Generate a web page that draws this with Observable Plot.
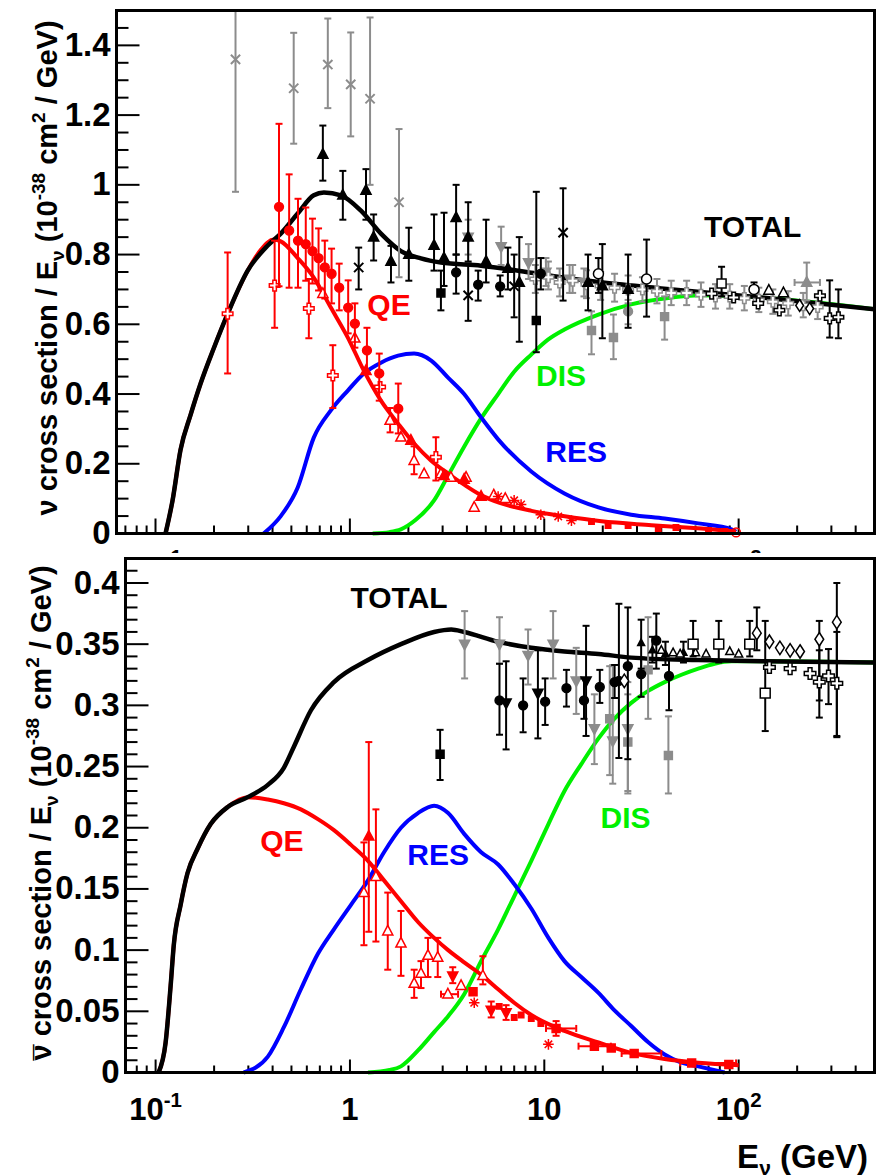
<!DOCTYPE html>
<html>
<head>
<meta charset="utf-8">
<script src="https://cdn.jsdelivr.net/npm/d3@7"></script>
<script src="https://cdn.jsdelivr.net/npm/@observablehq/plot@0.6"></script>
<style>
  html, body { margin: 0; padding: 0; background: #fff; }
  #wrap { position: relative; width: 884px; height: 1175px; overflow: hidden; background: #fff; }
  #top, #bot { position: absolute; left: 0; }
  #top { top: 0; }
  #bot { top: 553px; }
  svg { display: block; }
</style>
</head>
<body>
<div id="wrap"><div id="top"></div><div id="bot"></div></div>
<script>
// ---------------- DATA (E in GeV, value in 1e-38 cm^2/GeV) ----------------
// Top panel (neutrino) model curves [E, sigma/E]
const topTotal = [[0.1126,0],[0.1224,0.095],[0.1345,0.24],[0.1515,0.34],[0.1706,0.43],[0.199,0.53],[0.235,0.63],[0.298,0.754],[0.378,0.826],[0.441,0.86],[0.539,0.918],[0.652,0.97],[0.735,0.978],[0.899,0.97],[1.14,0.926],[1.445,0.86],[1.83,0.81],[2.32,0.789],[2.94,0.777],[4.73,0.768],[8.57,0.748],[12.2,0.735],[20,0.72],[40,0.703],[131,0.677],[500,0.643]];
const topQE = [[0.1126,0],[0.1224,0.095],[0.1345,0.24],[0.1515,0.34],[0.1706,0.43],[0.199,0.53],[0.235,0.63],[0.298,0.754],[0.35,0.815],[0.406,0.843],[0.441,0.838],[0.539,0.79],[0.652,0.734],[0.798,0.648],[0.976,0.562],[1.18,0.467],[1.445,0.381],[1.77,0.315],[2.14,0.258],[2.62,0.209],[3.2,0.172],[3.87,0.14],[4.73,0.11],[5.9,0.088],[8.6,0.065],[12.5,0.05],[19.7,0.035],[35.6,0.024],[64.5,0.014],[97,0.006]];
const topRES = [[0.36,0],[0.441,0.05],[0.539,0.132],[0.652,0.275],[0.798,0.353],[0.976,0.41],[1.18,0.459],[1.445,0.49],[1.77,0.51],[2.14,0.516],[2.62,0.496],[3.2,0.447],[3.87,0.40],[4.73,0.333],[5.79,0.27],[8.57,0.178],[12.7,0.115],[19,0.075],[28,0.054],[41.6,0.043],[62,0.029],[92,0.012],[97,0.005]];
const topDIS = [[1.31,0],[1.6,0.004],[1.83,0.012],[2.19,0.04],[2.71,0.095],[3.2,0.166],[3.87,0.249],[4.73,0.33],[5.79,0.40],[7.0,0.464],[8.57,0.513],[10.45,0.556],[12.7,0.585],[19,0.628],[28,0.657],[41.6,0.674],[64.5,0.683],[131,0.676],[500,0.643]];

// Top panel measurements [E, value, errLow, errHigh, (Elow, Ehigh)]
const topGrayX = [[0.258,1.36,0.98,1.5],[0.514,1.277,1.118,1.436],[0.77,1.345,1.22,1.477],[1.01,1.288,1.139,1.437],[1.27,1.247,1.0,1.48],[1.79,0.95,0.735,1.16]];
const topGrayTriDown = [[4.06,0.85,0.80,0.90],[6.0,0.823,0.77,0.88],[8.3,0.777,0.73,0.83],[10.2,0.75,0.71,0.79],[13.5,0.73,0.69,0.77],[16,0.72,0.68,0.76]];
const topGraySquare = [[17.5,0.582,0.514,0.637],[22.7,0.562,0.5,0.628],[41.6,0.622,0.556,0.68]];
const topGrayCircle = [[27,0.637,0.6,0.67]];
const topGrayOpenCross = [[9.0,0.73,0.69,0.77],[10.5,0.735,0.70,0.78],[12,0.72,0.68,0.76],[14,0.725,0.69,0.77],[16.5,0.715,0.675,0.755],[19.5,0.71,0.67,0.75],[23,0.705,0.665,0.745],[27,0.70,0.66,0.74],[32,0.70,0.665,0.735],[38,0.695,0.66,0.73],[45,0.69,0.655,0.725],[54,0.69,0.655,0.725],[64,0.685,0.65,0.72],[76,0.68,0.645,0.715],[90,0.68,0.645,0.715],[107,0.675,0.64,0.71],[127,0.67,0.635,0.705],[150,0.665,0.63,0.70],[180,0.66,0.625,0.695],[215,0.655,0.62,0.69],[255,0.65,0.615,0.685]];
const topGrayTriHerr = [[224,0.72,0.668,0.777,194,262]];
const topBlackTri = [[0.726,1.087,1.012,1.17],[0.92,0.97,0.9,1.04],[1.21,0.984,0.9,1.045],[1.325,0.85,0.783,0.915],[1.627,0.78,0.72,0.825],[2.01,0.80,0.725,0.877],[2.71,0.826,0.754,0.915],[3.05,0.79,0.71,0.92],[3.52,0.906,0.80,1.0],[4.06,0.85,0.78,0.95],[5.02,0.78,0.72,0.90],[6.5,0.76,0.70,0.82],[7.44,0.72,0.55,0.85],[16.8,0.72,0.64,0.80],[19.9,0.71,0.56,0.83],[27,0.70,0.59,0.80]];
const topBlackX = [[1.11,0.763,0.70,0.82],[4.06,0.683,0.61,0.774],[7.0,0.709,0.62,0.80],[12.5,0.863,0.668,0.99]];
const topBlackCircle = [[3.52,0.749,0.688,0.80],[4.57,0.714,0.668,0.754],[5.93,0.709,0.68,0.74],[9.6,0.745,0.70,0.79]];
const topBlackSquare = [[2.94,0.69,0.64,0.754],[9.1,0.611,0.52,0.98]];
const topOpenCircle = [[19,0.745,0.69,0.79],[33.6,0.73,0.622,0.843],[120,0.70,0.68,0.72]];
const topOpenSquare = [[81.7,0.717,0.68,0.765]];
const topOpenCross = [[72.6,0.688],[94.3,0.677],[126,0.66],[162,0.64],[262,0.682],[294,0.617,0.562,0.726],[326,0.62,0.56,0.70]];
const topOpenDiamond = [[206,0.654],[232,0.645]];
const topOpenTri = [[143,0.697],[170,0.69]];
const topRedCircle = [[0.432,0.937,0.709,1.175],[0.487,0.869,0.705,1.03],[0.541,0.84,0.705,0.96],[0.593,0.83,0.725,0.935],[0.642,0.81,0.717,0.903],[0.69,0.79,0.697,0.875],[0.743,0.763,0.674,0.84],[0.805,0.745,0.66,0.817],[0.881,0.705,0.64,0.774],[0.98,0.648,0.574,0.726],[1.061,0.602,0.533,0.66],[1.224,0.525,0.459,0.59],[1.416,0.459,0.381,0.516],[1.774,0.358,0.287,0.43]];
const topRedOpenCross = [[0.235,0.63,0.459,0.806],[0.41,0.711,0.59,0.84],[0.615,0.645,0.56,0.73],[0.817,0.453,0.36,0.54],[1.43,0.42],[2.77,0.219,0.152,0.276]];
const topRedOpenTri = [[0.726,0.688],[1.06,0.56],[1.61,0.324,0.29,0.36],[1.83,0.276],[2.14,0.209,0.17,0.25],[2.41,0.171],[2.94,0.171],[3.31,0.161],[3.96,0.161],[4.36,0.075],[5.5,0.11],[6.3,0.1]];
const topRedFilledTri = [[1.21,0.467],[2.06,0.267],[3.05,0.166],[3.87,0.155],[4.73,0.106]];
const topRedStar = [[5.79,0.106],[7.0,0.095],[7.6,0.083],[9.6,0.054],[11.8,0.049],[13.8,0.037]];
const topRedSmall = [[17.5,0.034],[21.3,0.023],[27,0.023],[38.6,0.012],[47.6,0.017],[70,0.009],[85,0.006]];
const topRedOpenCircle = [[97,0.003]];

// Bottom panel (antineutrino) model curves
const botTotal = [[0.1036,0],[0.1126,0.0245],[0.1195,0.071],[0.124,0.104],[0.1345,0.137],[0.146,0.163],[0.1646,0.183],[0.192,0.203],[0.235,0.217],[0.298,0.225],[0.378,0.235],[0.457,0.249],[0.514,0.266],[0.63,0.296],[0.827,0.319],[1.238,0.337],[1.83,0.35],[2.71,0.36],[3.32,0.362],[3.87,0.36],[5.79,0.352],[8.57,0.347],[12.7,0.344],[19,0.342],[28,0.339],[62,0.337],[136,0.336],[500,0.335]];
const botQE = [[0.1036,0],[0.1126,0.0245],[0.1195,0.071],[0.124,0.104],[0.1345,0.137],[0.146,0.163],[0.1646,0.183],[0.192,0.203],[0.235,0.217],[0.298,0.225],[0.378,0.223],[0.457,0.22],[0.559,0.215],[0.684,0.207],[0.827,0.198],[1.012,0.186],[1.238,0.173],[1.497,0.157],[1.83,0.14],[2.24,0.123],[2.71,0.11],[3.2,0.1],[3.87,0.09],[4.73,0.08],[5.79,0.068],[7.0,0.057],[8.57,0.047],[12.7,0.034],[19,0.0245],[28,0.016],[41.6,0.011],[62,0.008],[100,0.006]];
const botRES = [[0.284,0],[0.378,0.013],[0.457,0.037],[0.559,0.068],[0.684,0.097],[0.827,0.117],[1.012,0.137],[1.238,0.157],[1.497,0.18],[1.83,0.2],[2.24,0.212],[2.71,0.218],[3.2,0.212],[3.87,0.195],[4.73,0.18],[5.79,0.17],[7.0,0.154],[8.57,0.134],[10.5,0.11],[12.7,0.091],[15.5,0.078],[19,0.065],[22.9,0.051],[28,0.038],[34.4,0.0245],[41.6,0.0147],[50.8,0.008],[62,0.005],[84.7,0]];
const botDIS = [[1.238,0],[1.6,0.002],[1.83,0.005],[2.24,0.018],[2.71,0.033],[3.2,0.046],[3.87,0.064],[4.73,0.091],[5.79,0.117],[7.0,0.144],[8.57,0.173],[10.5,0.203],[12.7,0.23],[15.5,0.252],[19,0.273],[22.9,0.289],[28,0.302],[34.4,0.312],[41.6,0.319],[50.8,0.325],[62,0.33],[75.2,0.334],[92,0.336],[136,0.336],[500,0.335]];

// Bottom panel measurements
const botBlackSquare = [[2.91,0.26,0.239,0.28]];
const botGrayTriDown = [[3.89,0.35,0.322,0.377],[5.88,0.35,0.334,0.372],[8.25,0.341,0.317,0.362],[11.1,0.35,0.322,0.377],[14.6,0.32,0.293,0.347],[18.1,0.281,0.252,0.309],[22.5,0.271,0.236,0.333],[26.9,0.281,0.23,0.319]];
const botGraySquare = [[21.7,0.289,0.243,0.332],[26.9,0.27,0.228,0.309],[34.2,0.329,0.289,0.372],[43.5,0.259,0.228,0.291]];
const botBlackCircle = [[5.88,0.304,0.276,0.334],[7.78,0.30,0.278,0.322],[10.1,0.303,0.284,0.322],[13,0.314,0.299,0.329],[16,0.304,0.289,0.322],[19.3,0.315,0.302,0.329],[23,0.319,0.306,0.333],[24.2,0.32,0.257,0.383],[26.9,0.332,0.256,0.38],[31.5,0.3255,0.307,0.339],[37.7,0.353,0.33,0.375],[43.8,0.324,0.296,0.3375]];
const botBlackTriDown = [[6.36,0.302,0.264,0.336],[9.27,0.31,0.273,0.345],[16.4,0.32,0.275,0.365]];
const botBlackTri = [[31.5,0.351,0.33,0.37],[36,0.345,0.335,0.356],[42,0.342,0.333,0.352],[52,0.343,0.335,0.352]];
const botOpenSquare = [[58.3,0.35,0.34,0.369],[79,0.35,0.335,0.369],[114,0.35,0.34,0.369],[137,0.31,0.279,0.369]];
const botOpenDiamond = [[25.8,0.32],[124,0.359,0.345,0.38],[144,0.352],[163,0.347],[184,0.345],[207,0.344],[260,0.354,0.304,0.369],[320,0.368,0.274,0.40]];
const botOpenCross = [[144,0.331],[184,0.33],[233,0.326],[260,0.319,0.29,0.345],[290,0.324,0.301,0.346],[320,0.318,0.275,0.36]];
const botOpenTri = [[40,0.345],[46,0.343],[50,0.342],[60,0.343],[68,0.342],[90,0.344],[100,0.342]];
const botRedOpenTri = [[1.18,0.147,0.104,0.188],[1.36,0.16,0.107,0.215],[1.565,0.1155,0.084,0.147],[1.83,0.1056,0.079,0.132],[2.14,0.0727,0.061,0.084],[2.32,0.081,0.069,0.091],[2.52,0.0956,0.078,0.11],[2.83,0.094,0.078,0.11],[3.73,0.071],[4.83,0.079,0.072,0.095],[3.19,0.064,null,null,2.94,3.6]];
const botRedFilledTri = [[1.25,0.193,0.115,0.27]];
const botRedTriDown = [[3.38,0.079,0.073,0.086],[5.33,0.051,0.045,0.058],[6.36,0.049,0.043,0.055]];
const botRedSquare = [[4.3,0.066],[11.5,0.036,0.03,0.042,10.2,14.6],[18.1,0.0215,null,null,15,22],[22.1,0.02],[29,0.0155,null,null,25,40],[57.3,0.0078,null,null,50,97],[89,0.0065]];
const botRedStar = [[4.36,0.057],[10.5,0.023]];
const botRedSmall = [[5.86,0.054],[7.0,0.045],[7.6,0.047],[8.57,0.044],[9.6,0.04]];

// Ticks and labels
const xMajor = [0.1, 1, 10, 100];
const xMinor = [0.07,0.08,0.09,0.2,0.3,0.4,0.5,0.6,0.7,0.8,0.9,2,3,4,5,6,7,8,9,20,30,40,50,60,70,80,90,200,300,400];
const xTickText = ["10^-1", "1", "10", "10^2"];
const topYMajor = [0,0.2,0.4,0.6,0.8,1,1.2,1.4];
const topYMinor = [0.05,0.1,0.15,0.25,0.3,0.35,0.45,0.5,0.55,0.65,0.7,0.75,0.85,0.9,0.95,1.05,1.1,1.15,1.25,1.3,1.35,1.45];
const botYMajor = [0,0.05,0.1,0.15,0.2,0.25,0.3,0.35,0.4];
const botYMinor = [0.01,0.02,0.03,0.04,0.06,0.07,0.08,0.09,0.11,0.12,0.13,0.14,0.16,0.17,0.18,0.19,0.21,0.22,0.23,0.24,0.26,0.27,0.28,0.29,0.31,0.32,0.33,0.34,0.36,0.37,0.38,0.39,0.41];
const topLabels = [[118,0.877,"TOTAL"],[1.59,0.654,"QE"],[12.2,0.45,"DIS"],[14.6,0.232,"RES"]];
const botLabels = [[1.79,0.387,"TOTAL"],[0.446,0.189,"QE"],[2.84,0.177,"RES"],[26.2,0.208,"DIS"]];

// ---------------- STYLE ----------------
const FONT = '"Liberation Sans", Arial, Helvetica, sans-serif';
const GRAY = "#8c8c8c", RED = "#ff0000", BLUE = "#0000ff", GREEN = "#00f000";
const LABEL_COLOR = {TOTAL: "black", QE: RED, DIS: GREEN, RES: BLUE};

const sym = fn => ({draw(c, size) { fn(c, Math.sqrt(size / Math.PI)); }});
const S = {
  circle: sym((c, r) => { c.moveTo(r, 0); c.arc(0, 0, r, 0, 2 * Math.PI); c.closePath(); }),
  square: sym((c, r) => { const s = r * 0.9; c.moveTo(-s, -s); c.lineTo(s, -s); c.lineTo(s, s); c.lineTo(-s, s); c.closePath(); }),
  triUp: sym((c, r) => { const s = r * 1.15; c.moveTo(0, -s * 1.15); c.lineTo(s, s * 0.75); c.lineTo(-s, s * 0.75); c.closePath(); }),
  triDown: sym((c, r) => { const s = r * 1.15; c.moveTo(0, s * 1.15); c.lineTo(s, -s * 0.75); c.lineTo(-s, -s * 0.75); c.closePath(); }),
  diamond: sym((c, r) => { const s = r * 1.35; c.moveTo(0, -s); c.lineTo(s * 0.65, 0); c.lineTo(0, s); c.lineTo(-s * 0.65, 0); c.closePath(); }),
  cross: sym((c, r) => { const a = r * 1.2, b = r * 0.4; c.moveTo(-b, -a); c.lineTo(b, -a); c.lineTo(b, -b); c.lineTo(a, -b); c.lineTo(a, b); c.lineTo(b, b); c.lineTo(b, a); c.lineTo(-b, a); c.lineTo(-b, b); c.lineTo(-a, b); c.lineTo(-a, -b); c.lineTo(-b, -b); c.closePath(); }),
  times: sym((c, r) => { const s = r * 1.05; c.moveTo(-s, -s); c.lineTo(s, s); c.moveTo(s, -s); c.lineTo(-s, s); }),
  star: sym((c, r) => { const s = r * 1.2; for (let k = 0; k < 4; k++) { const a = k * Math.PI / 4; c.moveTo(-s * Math.cos(a), -s * Math.sin(a)); c.lineTo(s * Math.cos(a), s * Math.sin(a)); } })
};
const capH = {draw(c) { c.moveTo(-3.5, 0); c.lineTo(3.5, 0); }};
const capV = {draw(c) { c.moveTo(0, -3.5); c.lineTo(0, 3.5); }};
const tickRight = L => ({draw(c) { c.moveTo(0, 0); c.lineTo(L, 0); }});
const tickUp = L => ({draw(c) { c.moveTo(0, 0); c.lineTo(0, -L); }});

function pointMarks({data, symbol, color, fill, r = 4.4, sw = 1.5}) {
  const v = data.filter(d => d.length > 3 && d[2] != null);
  const h = data.filter(d => d.length > 5);
  const X = d => d[0], Y = d => d[1];
  return [
    Plot.ruleY(h, {y: Y, x1: d => d[4], x2: d => d[5], stroke: color, strokeWidth: 2}),
    Plot.dot(h, {x: d => d[4], y: Y, symbol: capV, stroke: color, strokeWidth: 2}),
    Plot.dot(h, {x: d => d[5], y: Y, symbol: capV, stroke: color, strokeWidth: 2}),
    Plot.ruleX(v, {x: X, y1: d => d[2], y2: d => d[3], stroke: color, strokeWidth: 2}),
    Plot.dot(v, {x: X, y: d => d[2], symbol: capH, stroke: color, strokeWidth: 2}),
    Plot.dot(v, {x: X, y: d => d[3], symbol: capH, stroke: color, strokeWidth: 2}),
    Plot.dot(data, {x: X, y: Y, symbol, r, fill: fill ?? color, stroke: color, strokeWidth: sw})
  ];
}
const curve = (data, color, w = 4) => Plot.line(data, {x: d => d[0], y: d => d[1], stroke: color, strokeWidth: w, curve: "monotone-x", strokeLinejoin: "round", strokeLinecap: "butt"});

function axisMarks({yMajor, yMinor, yFmt, xLabelDy, xMajLen, xMinLen, xFont}) {
  return [
    Plot.dot(yMajor, {y: d => d, frameAnchor: "left", symbol: tickRight(23), stroke: "black", strokeWidth: 2}),
    Plot.dot(yMinor, {y: d => d, frameAnchor: "left", symbol: tickRight(12), stroke: "black", strokeWidth: 2}),
    Plot.dot(xMajor, {x: d => d, frameAnchor: "bottom", symbol: tickUp(xMajLen), stroke: "black", strokeWidth: 2}),
    Plot.dot(xMinor, {x: d => d, frameAnchor: "bottom", symbol: tickUp(xMinLen), stroke: "black", strokeWidth: 2}),
    Plot.text(yMajor, {y: d => d, frameAnchor: "left", textAnchor: "end", lineAnchor: "middle", dx: -6, text: yFmt, fontSize: 33, fontWeight: "bold", fill: "black"}),
    Plot.text(xMajor, {x: d => d, frameAnchor: "bottom", lineAnchor: "top", dy: xLabelDy, text: (d, i) => xTickText[i], fontSize: xFont, fontWeight: "bold", fill: "black"})
  ];
}
const labelMarks = labels => labels.map(l => Plot.text([l], {x: d => d[0], y: d => d[1], text: d => d[2], fill: LABEL_COLOR[l[2]], fontSize: 30, fontWeight: "bold", textAnchor: "middle", lineAnchor: "middle"}));

function superscripts(svg, fontSize) {
  d3.select(svg).selectAll("text").each(function () {
    const m = /^10\^(.+)$/.exec(this.textContent);
    if (!m) return;
    const el = d3.select(this);
    el.text("");
    el.append("tspan").text("10");
    el.append("tspan").attr("dy", -0.42 * fontSize).attr("font-size", 0.66 * fontSize).text(m[1]);
  });
}
function yTitle(svg, x, y, bar) {
  const t = d3.select(svg).append("text")
    .attr("transform", `translate(${x},${y}) rotate(-90)`)
    .attr("text-anchor", "middle").attr("font-family", FONT).attr("font-weight", "bold")
    .attr("font-size", 29).attr("fill", "black");
  if (bar) {
    t.append("tspan").attr("dy", 4).text("\u00AF");
    t.append("tspan").attr("dx", -16).attr("dy", -4).text("\u03BD");
  } else {
    t.append("tspan").text("\u03BD");
  }
  t.append("tspan").text(" cross section / E");
  t.append("tspan").attr("dy", 7).attr("font-size", 19).text("\u03BD");
  t.append("tspan").attr("dy", -7).text(" (10");
  t.append("tspan").attr("dy", -12).attr("font-size", 19).text("-38");
  t.append("tspan").attr("dy", 12).text(" cm");
  t.append("tspan").attr("dy", -12).attr("font-size", 19).text("2");
  t.append("tspan").attr("dy", 12).text(" / GeV)");
}

const fmtY = d => String(+d.toFixed(2));

// ---------------- TOP PANEL ----------------
const topSeries = [
  {data: topGrayX, symbol: S.times, color: GRAY, fill: "none", sw: 2},
  {data: topGrayTriDown, symbol: S.triDown, color: GRAY},
  {data: topGraySquare, symbol: S.square, color: GRAY},
  {data: topGrayCircle, symbol: S.circle, color: GRAY},
  {data: topGrayOpenCross, symbol: S.cross, color: GRAY, fill: "white"},
  {data: topGrayTriHerr, symbol: S.triUp, color: GRAY},
  {data: topBlackTri, symbol: S.triUp, color: "black"},
  {data: topBlackX, symbol: S.times, color: "black", fill: "none", sw: 2},
  {data: topBlackCircle, symbol: S.circle, color: "black"},
  {data: topBlackSquare, symbol: S.square, color: "black"},
  {data: topOpenCircle, symbol: S.circle, color: "black", fill: "white", r: 5},
  {data: topOpenSquare, symbol: S.square, color: "black", fill: "white", r: 5},
  {data: topOpenCross, symbol: S.cross, color: "black", fill: "white"},
  {data: topOpenDiamond, symbol: S.diamond, color: "black", fill: "white"},
  {data: topOpenTri, symbol: S.triUp, color: "black", fill: "white"},
  {data: topRedOpenTri, symbol: S.triUp, color: RED, fill: "white"},
  {data: topRedOpenCross, symbol: S.cross, color: RED, fill: "white"},
  {data: topRedCircle, symbol: S.circle, color: RED},
  {data: topRedFilledTri, symbol: S.triUp, color: RED},
  {data: topRedStar, symbol: S.star, color: RED, fill: "none"},
  {data: topRedSmall, symbol: S.square, color: RED, r: 3},
  {data: topRedOpenCircle, symbol: S.circle, color: RED, fill: "none"}
];
const topPlot = Plot.plot({
  width: 884, height: 560,
  marginTop: 10, marginBottom: 27, marginLeft: 116, marginRight: 10,
  x: {type: "log", domain: [0.063, 500], axis: null},
  y: {domain: [0, 1.5], axis: null},
  style: {fontFamily: FONT, background: "white"},
  marks: [
    ...axisMarks({yMajor: topYMajor, yMinor: topYMinor, yFmt: fmtY, xLabelDy: 21, xMajLen: 15, xMinLen: 8, xFont: 31}),
    curve(topDIS, GREEN), curve(topRES, BLUE), curve(topQE, RED), curve(topTotal, "black", 4.5),
    ...topSeries.flatMap(pointMarks),
    ...labelMarks(topLabels),
    Plot.frame({stroke: "black", strokeWidth: 3})
  ]
});
superscripts(topPlot, 31);
yTitle(topPlot, 57, 268, false);
document.getElementById("top").appendChild(topPlot);

// ---------------- BOTTOM PANEL ----------------
const botSeries = [
  {data: botGrayTriDown, symbol: S.triDown, color: GRAY},
  {data: botGraySquare, symbol: S.square, color: GRAY},
  {data: botBlackSquare, symbol: S.square, color: "black"},
  {data: botBlackCircle, symbol: S.circle, color: "black"},
  {data: botBlackTriDown, symbol: S.triDown, color: "black"},
  {data: botBlackTri, symbol: S.triUp, color: "black", r: 3},
  {data: botOpenTri, symbol: S.triUp, color: "black", fill: "white", r: 3.5},
  {data: botOpenSquare, symbol: S.square, color: "black", fill: "white", r: 5.5},
  {data: botOpenDiamond, symbol: S.diamond, color: "black", fill: "white", r: 5},
  {data: botOpenCross, symbol: S.cross, color: "black", fill: "white", r: 4.8},
  {data: botRedOpenTri, symbol: S.triUp, color: RED, fill: "white"},
  {data: botRedFilledTri, symbol: S.triUp, color: RED},
  {data: botRedTriDown, symbol: S.triDown, color: RED},
  {data: botRedSquare, symbol: S.square, color: RED},
  {data: botRedStar, symbol: S.star, color: RED, fill: "none"},
  {data: botRedSmall, symbol: S.square, color: RED, r: 3}
];
const botPlot = Plot.plot({
  width: 884, height: 622,
  marginTop: 5, marginBottom: 103, marginLeft: 125, marginRight: 10,
  x: {type: "log", domain: [0.07, 500], axis: null},
  y: {domain: [0, 0.42], axis: null},
  style: {fontFamily: FONT, background: "white"},
  marks: [
    ...axisMarks({yMajor: botYMajor, yMinor: botYMinor, yFmt: fmtY, xLabelDy: 25, xMajLen: 13, xMinLen: 7, xFont: 31}),
    curve(botDIS, GREEN), curve(botRES, BLUE), curve(botQE, RED), curve(botTotal, "black", 4.5),
    ...botSeries.flatMap(pointMarks),
    ...labelMarks(botLabels),
    Plot.frame({stroke: "black", strokeWidth: 3})
  ]
});
superscripts(botPlot, 31);
yTitle(botPlot, 51, 260, true);
{
  const t = d3.select(botPlot).append("text")
    .attr("x", 868).attr("y", 615).attr("text-anchor", "end")
    .attr("font-family", FONT).attr("font-weight", "bold").attr("font-size", 33).attr("fill", "black");
  t.append("tspan").text("E");
  t.append("tspan").attr("dy", 7).attr("font-size", 21).text("\u03BD");
  t.append("tspan").attr("dy", -7).text(" (GeV)");
}
document.getElementById("bot").appendChild(botPlot);
</script>
</body>
</html>
